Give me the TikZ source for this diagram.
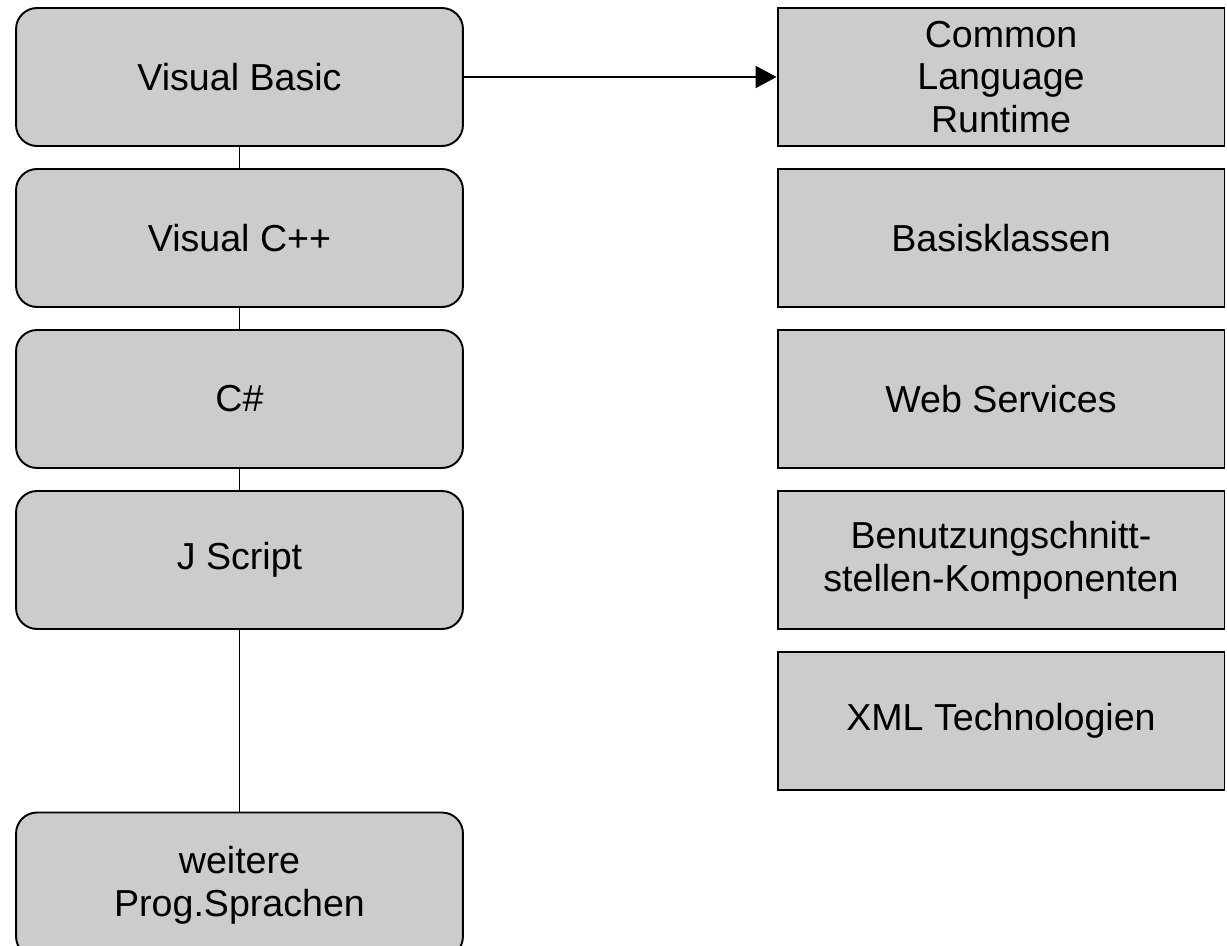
\documentclass[tikz,border=0pt]{standalone}
\usepackage{fontspec}
\setmainfont{Liberation Sans}
\usetikzlibrary{arrows.meta}
\definecolor{boxgray}{RGB}{204,204,204}

\tikzset{
  lang/.style={draw=black, fill=boxgray, rounded corners=0.42cm, line width=1.1pt,
    minimum width=8.94cm, minimum height=2.76cm, align=center,
    font=\fontsize{21.4}{24.4}\selectfont},
  part/.style={lang, rounded corners=0pt},
  link/.style={line width=1.1pt}
}

\begin{document}
\begin{tikzpicture}[x=0.02cm, y=-0.02cm]
  \useasboundingbox (0,0) rectangle (1227,946);
  % left column
  \node[lang] (vb)  at (239.5,77)  {Visual Basic};
  \node[lang] (vc)  at (239.5,238) {Visual C++};
  \node[lang] (cs)  at (239.5,399) {C\#};
  \node[lang] (js)  at (239.5,560) {J Script};
  \node[lang, minimum height=2.9cm] (wps) at (239.5,885) {weitere\\Prog.Sprachen};
  % right column
  \node[part] (clr) at (1001,77)  {Common\\Language\\Runtime};
  \node[part] (bas) at (1001,238) {Basisklassen};
  \node[part] (web) at (1001,399) {Web Services};
  \node[part] (gui) at (1001,560) {Benutzungschnitt-\\stellen-Komponenten};
  \node[part] (xml) at (1001,721) {XML Technologien};
  % connectors
  \draw[link] (vb) -- (vc);
  \draw[link] (vc) -- (cs);
  \draw[link] (cs) -- (js);
  \draw[link] (js) -- (wps);
  \draw[link, -{Triangle[length=0.42cm,width=0.44cm]}] (vb.east) -- (clr.west);
\end{tikzpicture}
\end{document}
